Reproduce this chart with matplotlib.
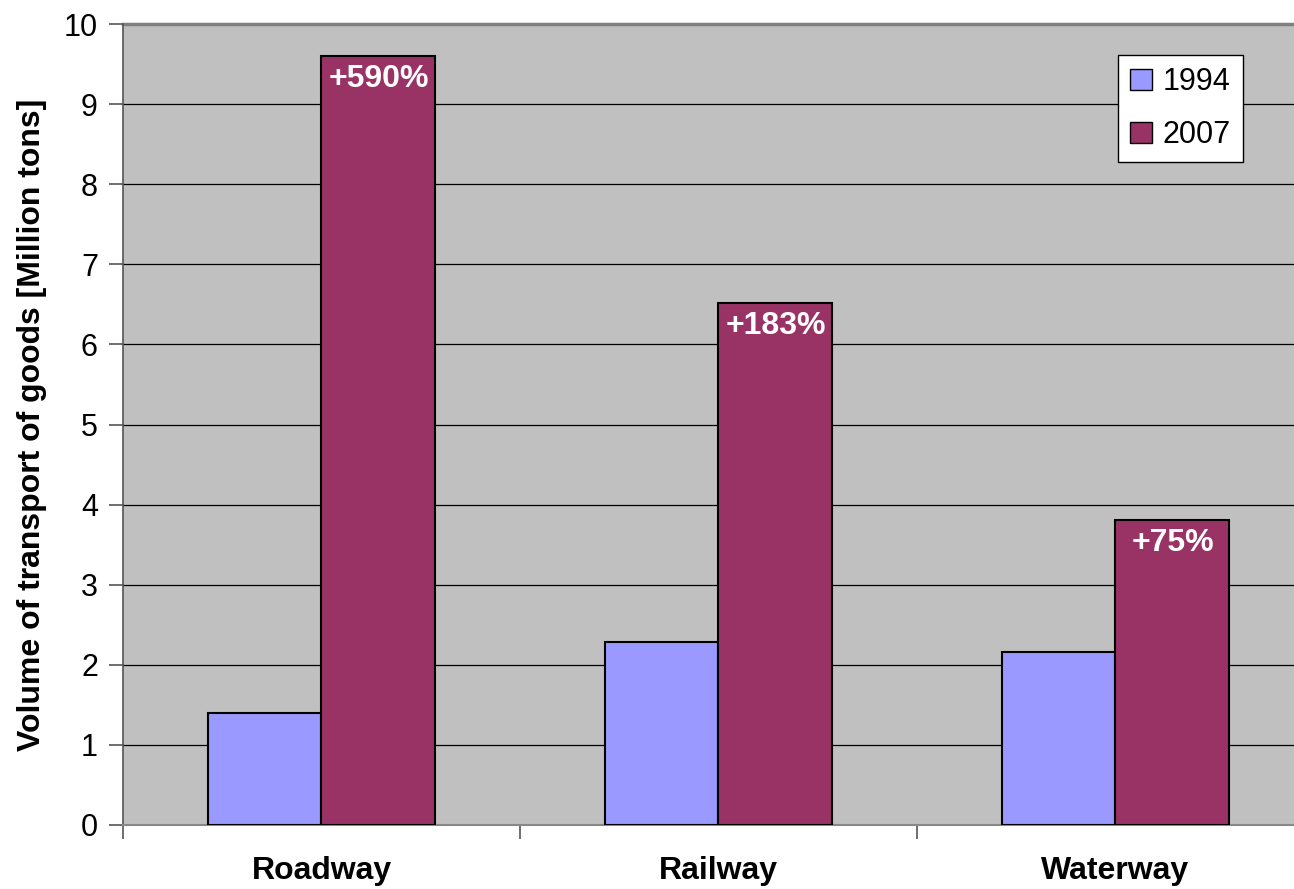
import numpy as np
import matplotlib.pyplot as plt
from matplotlib.patches import Patch

# ---------------------------------------------------------------------
# Data
# ---------------------------------------------------------------------

categories = ["Roadway", "Railway", "Waterway"]
series_names = ["1994", "2007"]
values_1994 = [1.40, 2.28, 2.16]
values_2007 = [9.60, 6.52, 3.81]
growth_labels = ["+590%", "+183%", "+75%"]

# ---------------------------------------------------------------------
# Style
# ---------------------------------------------------------------------

plt.rcParams.update({
    "font.family": ["Liberation Sans", "DejaVu Sans"],
    "font.size": 21,
})

color_1994 = "#9999FF"
color_2007 = "#993366"
plot_bg = "#C0C0C0"

fig = plt.figure(figsize=(12.94, 8.89), dpi=100)
# plot area runs past the right edge of the picture, as in the original
ax = fig.add_axes([123 / 1294, 64 / 889, 1191 / 1294, 801 / 889])
ax.set_facecolor(plot_bg)

x = np.arange(len(categories))
width = 0.287

ax.bar(x - width / 2, values_1994, width, color=color_1994,
       edgecolor="black", linewidth=1.5, zorder=3, label=series_names[0])
bars = ax.bar(x + width / 2, values_2007, width, color=color_2007,
              edgecolor="black", linewidth=1.5, zorder=3, label=series_names[1])

for bar, text in zip(bars, growth_labels):
    ax.annotate(text, (bar.get_x() + bar.get_width() / 2, bar.get_height()),
                xytext=(0, -6), textcoords="offset points",
                ha="center", va="top", color="white",
                fontsize=23, fontweight="bold", zorder=5)

ax.set_xlim(-0.5, len(categories) - 0.5)
ax.set_ylim(0, 10)
ax.set_yticks(np.arange(0, 11, 1))
ax.grid(axis="y", color="#000000", linewidth=0.9, zorder=1)

ax.set_xticks(x)
ax.set_xticklabels(categories, fontsize=23, fontweight="bold")
ax.tick_params(axis="x", which="major", length=0, pad=22)
ax.set_xticks(np.arange(-0.5, len(categories), 1), minor=True)
ax.tick_params(axis="x", which="minor", length=10, width=1.2, color="#555555")
ax.tick_params(axis="y", length=10, width=1.2, color="#555555", pad=8, labelsize=22)

ax.spines["right"].set_visible(False)
ax.spines["top"].set_color("#808080")
ax.spines["top"].set_linewidth(2.5)
ax.spines["top"].set_zorder(2)
ax.spines["left"].set_color("#555555")
ax.spines["bottom"].set_color("#888888")
ax.spines["left"].set_linewidth(1.2)
ax.spines["bottom"].set_linewidth(1.5)

ax.set_ylabel("Volume of transport of goods [Million tons]",
              fontsize=23, fontweight="bold", labelpad=12)

legend_elements = [
    Patch(facecolor=color_1994, edgecolor="black", label=series_names[0]),
    Patch(facecolor=color_2007, edgecolor="black", label=series_names[1]),
]
leg = ax.legend(handles=legend_elements, loc="upper left",
                bbox_to_anchor=((1118 - 123) / 1191, 1 - (55 - 24) / 801),
                borderaxespad=0, fancybox=False, framealpha=1,
                edgecolor="black", fontsize=22, handlelength=0.7,
                handleheight=0.7, handletextpad=0.35, labelspacing=0.75,
                borderpad=0.4)
leg.get_frame().set_linewidth(1.0)

fig.savefig("out.png", dpi=100)
